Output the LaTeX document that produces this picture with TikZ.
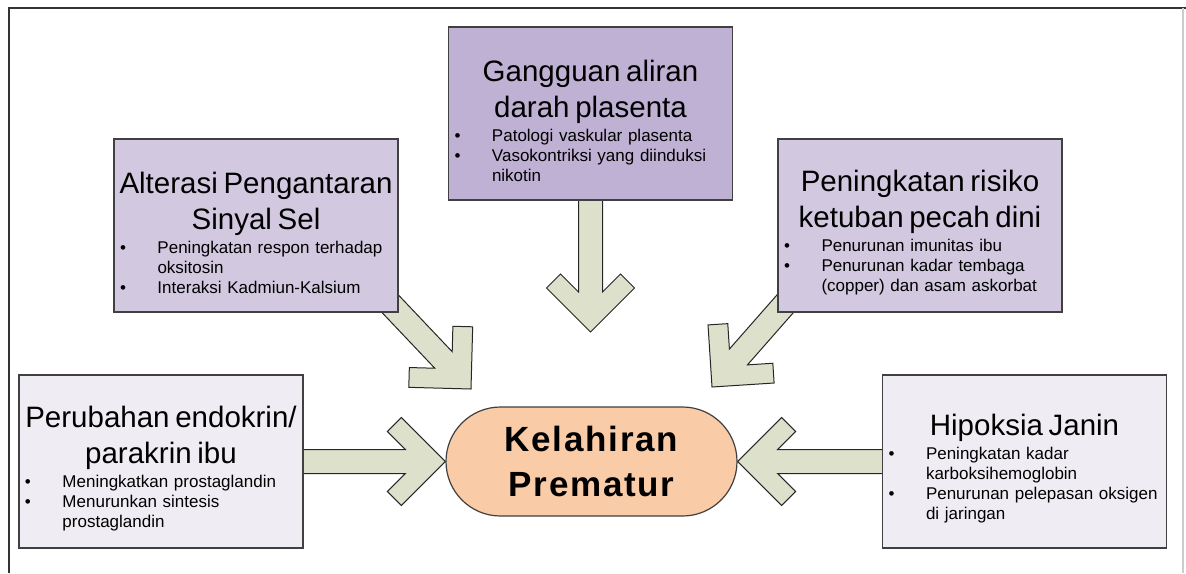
\documentclass[tikz,border=0pt]{standalone}
\usepackage{fontspec}
\setmainfont{Liberation Sans}
\newfontfamily\centerfont[LetterSpace=5]{Liberation Sans}
\usetikzlibrary{backgrounds}

\definecolor{plumdark}{RGB}{191,177,212}
\definecolor{plumlight}{RGB}{210,201,224}
\definecolor{greypale}{RGB}{239,237,243}
\definecolor{olivepale}{RGB}{221,225,204}
\definecolor{peach}{RGB}{249,203,166}
\definecolor{edgegrey}{RGB}{64,64,64}

% title and bullet lines inside the cause boxes
\newcommand\tline[1]{\par\noindent\hbox to\linewidth{\hss#1\hss}}
\newcommand\ctitle[1]{{\fontsize{14.75}{18}\selectfont #1\par}\vspace{2pt}}
\newcommand\bitem[1]{\par\noindent\hangindent=18.75pt\hangafter=1\makebox[18.75pt][l]{\textbullet}#1}

% block arrow from foot #1 to tip #2
\newcommand\fatarrow[2]{%
  \path (#1) coordinate (arrowfoot) (#2) coordinate (arrowtip);
  \pgfpointdiff{\pgfpointanchor{arrowtip}{center}}{\pgfpointanchor{arrowfoot}{center}}%
  \pgfgetlastxy\arrowdx\arrowdy
  \pgfmathsetmacro\arrowang{atan2(\arrowdy,\arrowdx)}%
  \pgfmathsetmacro\arrowlen{2*veclen(\arrowdx,\arrowdy)+30}%
  \draw [fatarrow, shift={(arrowtip)}, rotate=\arrowang]
    (0,0) -- (44,44) -- (58,30) -- (40,12) -- (\arrowlen,12)
    -- (\arrowlen,-12) -- (40,-12) -- (58,-30) -- (44,-44) -- cycle;
}

\tikzset{
  cause/.style={draw=edgegrey, line width=0.6pt, minimum width=142pt,
    minimum height=86.5pt, text width=136pt, inner xsep=3pt, inner ysep=0pt,
    execute at begin node=\raggedright, font=\fontsize{8.5}{10}\selectfont},
  fatarrow/.style={draw=black!85, fill=olivepale, line width=0.5pt, line join=miter},
}

\begin{document}
\begin{tikzpicture}[x=0.5pt, y=0.5pt]
  \useasboundingbox (0,0) rectangle (1186,-573);

  % Frame
  \draw [black!80, line width=0.8pt] (9,-573) -- (9,-8) -- (1186,-8);
  \draw [black!20, line width=0.6pt] (1183,-8) -- (1183,-573);

  % Causes
  \node [cause, fill=plumdark] (gang) at (590.5,-113.5)
    {\ctitle{\tline{Gangguan aliran}\tline{darah plasenta}}%
     \bitem{Patologi vaskular plasenta}%
     \bitem{Vasokontriksi yang diinduksi\newline nikotin}\par\vspace{6pt}};
  \node [cause, fill=plumlight] (alte) at (256,-225.5)
    {\ctitle{\tline{Alterasi Pengantaran}\tline{Sinyal Sel}}%
     \bitem{Peningkatan respon terhadap\newline oksitosin}%
     \bitem{Interaksi Kadmiun-Kalsium}\par\vspace{10pt}};
  \node [cause, fill=plumlight] (peni) at (920,-225.5)
    {\ctitle{\tline{Peningkatan risiko}\tline{ketuban pecah dini}}%
     \bitem{Penurunan imunitas ibu}%
     \bitem{Penurunan kadar tembaga\newline (copper) dan asam askorbat}\par};
  \node [cause, fill=greypale] (peru) at (161,-461.5)
    {\ctitle{\tline{Perubahan endokrin/}\tline{parakrin ibu}}%
     \bitem{Meningkatkan prostaglandin}%
     \bitem{Menurunkan sintesis\newline prostaglandin}\par};
  \node [cause, fill=greypale] (hipo) at (1024.5,-461.5)
    {\ctitle{\tline{Hipoksia Janin}}%
     \bitem{Peningkatan kadar\newline karboksihemoglobin}%
     \bitem{Penurunan pelepasan oksigen\newline di jaringan}\par};

  % Outcome
  \node [draw=edgegrey, line width=0.6pt, fill=peach, rounded corners=27.25pt,
    minimum width=145.5pt, minimum height=54.5pt, align=center,
    font=\centerfont\bfseries\fontsize{17.5}{22.8}\selectfont]
    (prem) at (591.5,-461.5) {Kelahiran\\Prematur};

  % Arrow tips that stop short of the outcome
  \coordinate (tipdown) at (590.5,-332);
  \coordinate (tipleft) at (471,-389);
  \coordinate (tipright) at (712,-387);

  % Arrows, behind the boxes
  \begin{pgfonlayer}{background}
    \fatarrow{gang.south}{tipdown}
    \fatarrow{alte.south east}{tipleft}
    \fatarrow{peni.south west}{tipright}
    \fatarrow{peru.east}{prem.west}
    \fatarrow{hipo.west}{prem.east}
  \end{pgfonlayer}
\end{tikzpicture}
\end{document}
